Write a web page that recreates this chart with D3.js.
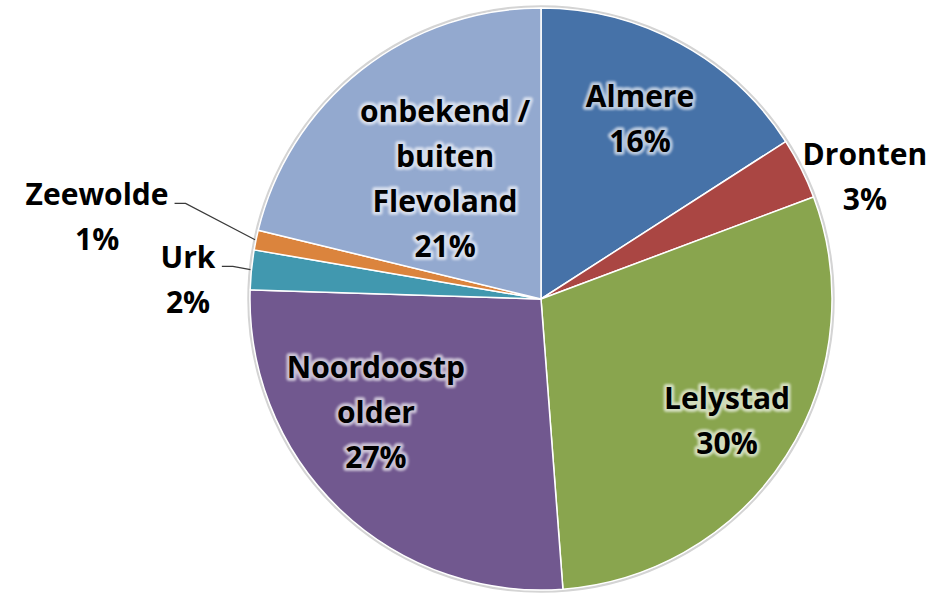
<!DOCTYPE html>
<html>
<head>
<meta charset="utf-8">
<script src="https://cdn.jsdelivr.net/npm/d3@7"></script>
<style>
    html, body { margin: 0; padding: 0; background: #fff; }
    svg { display: block; }
    text { font-family: "Open Sans", "Liberation Sans", sans-serif; font-weight: 700; }
</style>
</head>
<body>
<svg id="chart" width="937" height="593"></svg>
<script>
// gemeenten, clockwise from 12 o'clock
var categories = ['Almere', 'Dronten', 'Lelystad', 'Noordoostpolder', 'Urk', 'Zeewolde', 'onbekend / buiten Flevoland'];
var shares = [15.9, 3.4, 29.5, 26.7, 2.2, 1.1, 21.2];
var labelLines = [
    ['Almere'],
    ['Dronten'],
    ['Lelystad'],
    ['Noordoostp', 'older'],
    ['Urk'],
    ['Zeewolde'],
    ['onbekend /', 'buiten', 'Flevoland']
];
var colors = ['#4672A8', '#AA4643', '#89A54E', '#71588F', '#4198AF', '#DB843D', '#93A9CF'];

// label placement: [radius factor, angle shift in degrees]
var labelAt = [[0.708, 0.1], [1.191, 5.8], [0.763, 0.5], [0.687, 11.9], [1.215, -2.5], [1.552, -1.1], [0.531, -0.2]];
var outside = [false, true, false, false, true, true, false];
var hasLeader = [false, false, false, false, true, true, false];

var cx = 541, cy = 299, radius = 291, lineHeight = 45;

var svg = d3.select('#chart');
var defs = svg.append('defs');

defs.append('filter').attr('id', 'soft')
    .attr('x', '-20%').attr('y', '-40%').attr('width', '140%').attr('height', '180%')
    .append('feGaussianBlur').attr('stdDeviation', 1.3);

var pie = d3.pie().sort(null).value(function(d) { return d; });
var arcs = pie(shares);
var arc = d3.arc().innerRadius(0).outerRadius(radius);

var g = svg.append('g').attr('transform', 'translate(' + cx + ',' + cy + ')');

// soft outer rim
g.append('circle')
    .attr('r', radius + 1.5)
    .attr('fill', 'none')
    .attr('stroke', '#d4d4d4')
    .attr('stroke-width', 2.5);

g.selectAll('path.slice')
    .data(arcs)
    .enter()
    .append('path')
    .attr('class', 'slice')
    .attr('d', arc)
    .attr('fill', function(d, i) { return colors[i]; })
    .attr('stroke', '#ffffff')
    .attr('stroke-width', 1.5)
    .attr('stroke-linejoin', 'round');

function polar(angle, r) {
    return [r * Math.sin(angle), -r * Math.cos(angle)];
}

var labels = g.selectAll('g.label')
    .data(arcs)
    .enter()
    .append('g')
    .attr('class', 'label')
    .attr('transform', function(d, i) {
        var mid = (d.startAngle + d.endAngle) / 2 + labelAt[i][1] * Math.PI / 180;
        var p = polar(mid, radius * labelAt[i][0]);
        return 'translate(' + p[0] + ',' + p[1] + ')';
    });

labels.each(function(d, i) {
    var lines = labelLines[i].concat([Math.round(shares[i]) + '%']);
    var n = lines.length;
    var glow = outside[i] ? '#ffffff' : d3.interpolateRgb(colors[i], '#ffffff')(0.62);
    var node = d3.select(this);

    function addLines(cls) {
        return node.selectAll('text.' + cls)
            .data(lines)
            .enter()
            .append('text')
            .attr('class', cls)
            .attr('text-anchor', 'middle')
            .attr('dominant-baseline', 'central')
            .attr('y', function(t, j) { return (j - (n - 1) / 2) * lineHeight; })
            .attr('font-size', 30)
            .text(function(t) { return t; });
    }

    // halo behind the text
    addLines('halo')
        .attr('fill', glow)
        .attr('stroke', glow)
        .attr('stroke-width', 6)
        .attr('stroke-linejoin', 'round')
        .attr('filter', 'url(#soft)');

    addLines('txt').attr('fill', '#000');
});

// leader lines for the small outside slices
labels.filter(function(d, i) { return hasLeader[i]; })
    .each(function(d) {
        var first = d3.select(this).select('text.txt').node().getBBox();
        var t = d3.select(this).attr('transform').match(/translate\(([-\d.e]+),([-\d.e]+)\)/);
        var ox = +t[1], oy = +t[2];
        var x0 = ox + first.x + first.width + 6;
        var y0 = oy + first.y + first.height / 2 + 10;
        var mid = (d.startAngle + d.endAngle) / 2;
        var end = polar(mid, radius + 1);
        g.append('polyline')
            .attr('points', [[x0, y0], [x0 + 11, y0], end].map(function(p) { return p.join(','); }).join(' '))
            .attr('fill', 'none')
            .attr('stroke', '#3a3a3a')
            .attr('stroke-width', 1.2);
    });
</script>
</body>
</html>
